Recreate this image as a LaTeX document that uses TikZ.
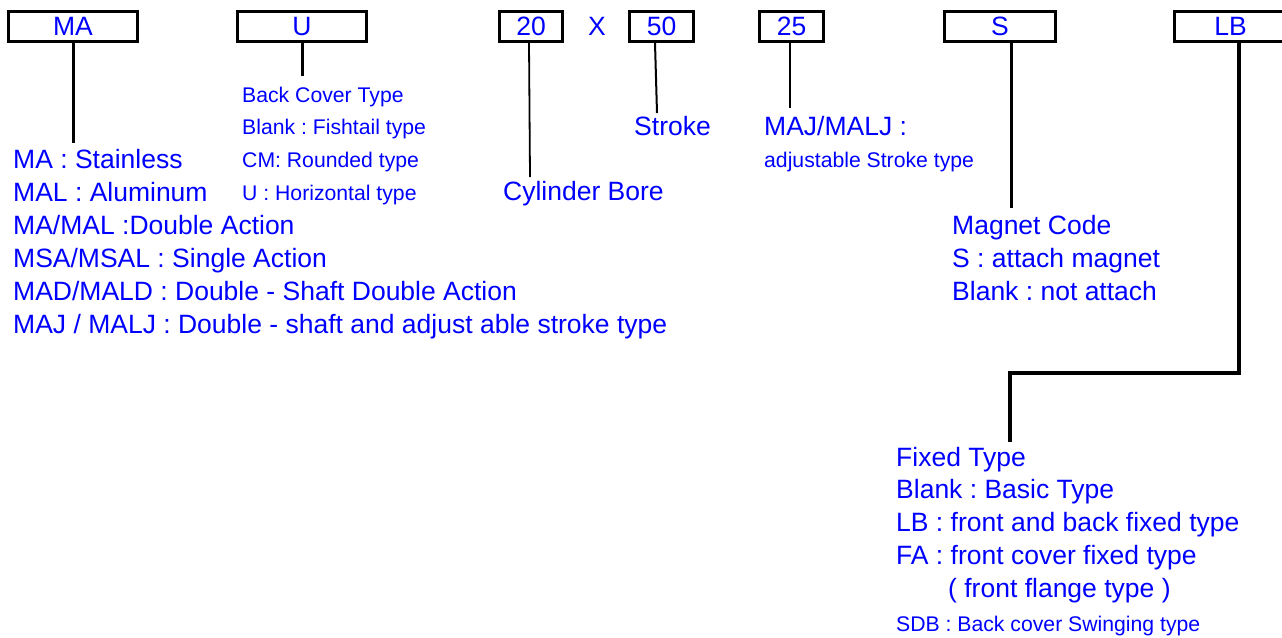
\documentclass[tikz,border=0pt]{standalone}
\usepackage{fontspec}
\setmainfont{Liberation Sans}
\definecolor{codeblue}{RGB}{0,0,255}
\frenchspacing
\begin{document}
\begin{tikzpicture}[x=1pt,y=-1pt,
		codebox/.style={draw,line width=3pt,minimum height=30pt,inner sep=0pt,text=codeblue,font=\fontsize{26.5}{30}\selectfont,text height=18.8pt,text depth=0pt},
		codemark/.style={inner sep=0pt,text=codeblue,font=\fontsize{26.5}{30}\selectfont,text height=18.8pt,text depth=0pt},
		bigtxt/.style={anchor=base west,inner sep=0pt,text=codeblue,font=\fontsize{26.5}{33}\selectfont},
		smalltxt/.style={anchor=base west,inner sep=0pt,text=codeblue,font=\fontsize{21.2}{33}\selectfont},
		lead/.style={line width=3pt}]
			\useasboundingbox (0,0) rectangle (1282,637);
			
			% code boxes
			\begin{scope}
				\node[codebox,minimum width=129pt] (bMA) at (73,26.5) {MA};
				\node[codebox,minimum width=129pt] (bU) at (302,26.5) {U};
				\node[codebox,minimum width=63pt] (b20) at (531,26.5) {20};
				\node[codemark] (times) at (597,26.5) {X};
				\node[codebox,minimum width=64pt] (b50) at (661.5,26.5) {50};
				\node[codebox,minimum width=64pt] (b25) at (791.5,26.5) {25};
				\node[codebox,minimum width=111pt] (bS) at (1000,26.5) {S};
				\node[codebox,minimum width=112pt] (bLB) at (1230.5,26.5) {LB};
			\end{scope}
			
			% descriptions
			\begin{scope}
				\foreach \txt [count=\i from 0] in {MA : Stainless, MAL : Aluminum, MA/MAL :Double Action, MSA/MSAL : Single Action, MAD/MALD : Double - Shaft Double Action, MAJ / MALJ : Double - shaft and adjust able stroke type}
					\node[bigtxt] (maTxt\i) at (13,{168+33*\i}) {\txt};
				\foreach \txt [count=\i from 0] in {Back Cover Type, Blank : Fishtail type, CM: Rounded type, U : Horizontal type}
					\node[smalltxt] (uTxt\i) at (242,{102+32.7*\i}) {\txt};
				\node[bigtxt] (boreTxt) at (503,200) {Cylinder Bore};
				\node[bigtxt] (strokeTxt) at (634,135) {Stroke};
				\node[bigtxt] (adjTxt) at (764,135) {MAJ/MALJ :};
				\node[smalltxt] (adjTxt1) at (764,167) {adjustable Stroke type};
				\foreach \txt [count=\i from 0] in {Magnet Code, S : attach magnet, Blank : not attach}
					\node[bigtxt] (magTxt\i) at (952,{234+33*\i}) {\txt};
				\foreach \txt [count=\i from 0] in {Fixed Type, Blank : Basic Type, LB : front and back fixed type, FA : front cover fixed type}
					\node[bigtxt] (fixTxt\i) at (896,{466+32.8*\i}) {\txt};
				\node[bigtxt] (fixTxt4) at (948,597) {( front flange type )};
				\node[smalltxt] (fixTxt5) at (896,631) {SDB : Back cover Swinging type};
			\end{scope}
			
			% lead lines
			\begin{scope}
				\coordinate (maEnd) at (73,143);
				\coordinate (uEnd) at (302,76);
				\coordinate (boreEnd) at (530,177);
				\coordinate (strokeEnd) at (657,113);
				\coordinate (adjEnd) at (790,108);
				\coordinate (magEnd) at (1011,208);
				\coordinate (lbKnee) at (1239,373);
				\coordinate (fixKnee) at (1010,373);
				\coordinate (fixEnd) at (1010,442);
				\draw[lead] (bMA) -- (maEnd);
				\draw[lead] (bU) -- (uEnd);
				\draw[line width=1.8pt] ([xshift=-2pt]b20.south) -- (boreEnd);
				\draw[line width=2pt] ([xshift=-6.5pt]b50.south) -- (strokeEnd);
				\draw[line width=2.5pt] (b25.south -| adjEnd) -- (adjEnd);
				\draw[lead] (bS.south -| magEnd) -- (magEnd);
				\draw[line width=3.5pt] (bLB.south -| lbKnee) -- (lbKnee) -- (fixKnee) -- (fixEnd);
			\end{scope}
		\end{tikzpicture}
\end{document}
